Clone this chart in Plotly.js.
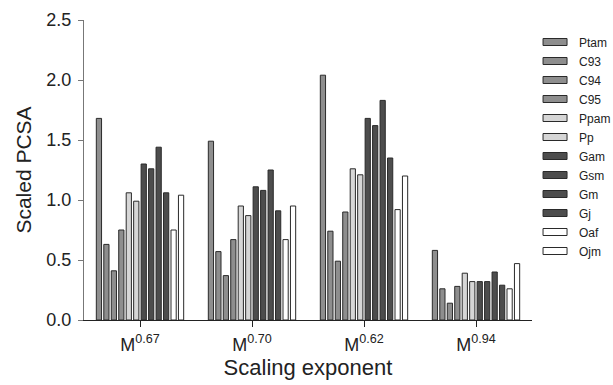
<!DOCTYPE html>
<html>
<head>
<meta charset="utf-8">
<script src="https://cdn.plot.ly/plotly-3.0.1.min.js"></script>
<style>html,body{margin:0;padding:0;background:#fff;}#chart{width:613px;height:385px;}</style>
</head>
<body>
<div id="chart"></div>
<script>
const categories = ["M<sup>0.67</sup>", "M<sup>0.70</sup>", "M<sup>0.62</sup>", "M<sup>0.94</sup>"];
const seriesNames = ["Ptam","C93","C94","C95","Ppam","Pp","Gam","Gsm","Gm","Gj","Oaf","Ojm"];
const Ptam = [1.68, 1.49, 2.04, 0.58];
const C93  = [0.63, 0.57, 0.74, 0.26];
const C94  = [0.41, 0.37, 0.49, 0.14];
const C95  = [0.75, 0.67, 0.90, 0.28];
const Ppam = [1.06, 0.95, 1.26, 0.39];
const Pp   = [0.99, 0.87, 1.21, 0.32];
const Gam  = [1.30, 1.11, 1.68, 0.32];
const Gsm  = [1.26, 1.08, 1.62, 0.32];
const Gm   = [1.44, 1.25, 1.83, 0.40];
const Gj   = [1.06, 0.91, 1.35, 0.29];
const Oaf  = [0.75, 0.67, 0.92, 0.26];
const Ojm  = [1.04, 0.95, 1.20, 0.47];
const seriesValues = [Ptam, C93, C94, C95, Ppam, Pp, Gam, Gsm, Gm, Gj, Oaf, Ojm];
const seriesColors = ["#8e8e8e","#8e8e8e","#8e8e8e","#8e8e8e","#d6d6d6","#d6d6d6","#4d4d4d","#4d4d4d","#4d4d4d","#4d4d4d","#ffffff","#ffffff"];

const traces = seriesNames.map((n, i) => ({
  type: "bar", name: n, x: categories, y: seriesValues[i],
  marker: {color: seriesColors[i], line: {color: "#2a2a2a", width: 1}}
}));

const font = "Liberation Sans, Arial, sans-serif";
const layout = {
  width: 613, height: 385,
  margin: {l: 84, r: 81, t: 20, b: 65, autoexpand: false},
  paper_bgcolor: "#fff", plot_bgcolor: "#fff",
  barmode: "group", bargap: 0.2, bargroupgap: 0.3,
  font: {family: font, color: "#222"},
  showlegend: true,
  legend: {x: 1.0157, xanchor: "left", y: 0.975, yanchor: "top", font: {size: 12, family: font, color: "#222"},
           tracegroupgap: 0, itemwidth: 30, traceorder: "normal", bgcolor: "rgba(0,0,0,0)"},
  xaxis: {
    type: "category", range: [-0.5, 3.5], showline: true, linecolor: "#222", linewidth: 1,
    ticks: "outside", ticklen: 6, tickcolor: "#222", tickfont: {size: 18, family: font, color: "#222"},
    ticklabelstandoff: 2,
    showgrid: false, zeroline: false,
    title: {text: "Scaling exponent", font: {size: 22, family: font, color: "#222"}, standoff: 6}
  },
  yaxis: {
    range: [0, 2.5], dtick: 0.5, tickformat: ".1f", showline: true, linecolor: "#777", linewidth: 1,
    ticks: "outside", ticklen: 5, tickcolor: "#777", tickfont: {size: 18, family: font, color: "#222"},
    ticklabelstandoff: 3,
    showgrid: false, zeroline: false,
    title: {text: "Scaled PCSA", font: {size: 21, family: font, color: "#222"}, standoff: 0}
  }
};

Plotly.newPlot("chart", traces, layout, {displayModeBar: false, staticPlot: true}).then(gd => {
  gd.querySelectorAll(".legend .legendpoints path").forEach(p => {
    p.setAttribute("d", "M8,3.5H-16V-3.5H8Z");
  });
  const yt = gd.querySelector(".g-ytitle");
  if (yt) yt.setAttribute("transform", "translate(-9,0)");
});
</script>
</body>
</html>
